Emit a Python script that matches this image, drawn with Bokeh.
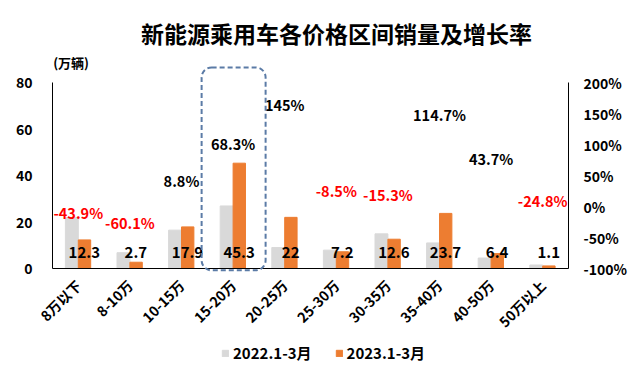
import math
from bokeh.plotting import figure
from bokeh.models import (ColumnDataSource, Range1d, LinearAxis, LabelSet,
                          BoxAnnotation, Label, Legend, LegendItem, FixedTicker, PrintfTickFormatter)
from bokeh.transform import dodge
from bokeh.core.properties import value
from bokeh.embed import file_html
from bokeh.resources import INLINE

# ---- data ----
categories = ["8万以下", "8-10万", "10-15万", "15-20万", "20-25万",
              "25-30万", "30-35万", "35-40万", "40-50万", "50万以上"]
sales_2022 = [21.9, 6.8, 16.5, 26.9, 9.0, 7.9, 14.9, 11.0, 4.5, 1.5]
sales_2023 = [12.3, 2.7, 17.9, 45.3, 22, 7.2, 12.6, 23.7, 6.4, 1.1]
sales_labels = ["12.3", "2.7", "17.9", "45.3", "22", "7.2", "12.6", "23.7", "6.4", "1.1"]
growth = [-43.9, -60.1, 8.8, 68.3, 145, -8.5, -15.3, 114.7, 43.7, -24.8]
growth_labels = ["-43.9%", "-60.1%", "8.8%", "68.3%", "145%",
                 "-8.5%", "-15.3%", "114.7%", "43.7%", "-24.8%"]
left_ticks = [0, 20, 40, 60, 80]
right_ticks = [-100, -50, 0, 50, 100, 150, 200]
series_names = ["2022.1-3月", "2023.1-3月"]
title_text = "新能源乘用车各价格区间销量及增长率"
unit_text = "(万辆)"
highlight = "15-20万"

FONT = "Noto Sans CJK SC"
GREY = "#d9d9d9"
ORANGE = "#ed7d31"

# layout: the frame covers the whole figure; all axes are pinned inside it
W, H = 640, 366
PAD_L, PAD_R = 52, 72             # pixels between figure edge and the value axes
CAT_PX = (W - PAD_L - PAD_R) / len(categories)
BASE_PX = 268                     # pixel row of y=0, from the top
PX_PER_UNIT = 2.325
Y_TOP = BASE_PX / PX_PER_UNIT
Y_BOTTOM = -(H - BASE_PX) / PX_PER_UNIT
PCT_PER_UNIT = (right_ticks[-1] - right_ticks[0]) / (left_ticks[-1] - left_ticks[0])
X_START = -0.5 - PAD_L / CAT_PX
X_END = len(categories) - 0.5 + PAD_R / CAT_PX

idx = list(range(len(categories)))
src = ColumnDataSource(dict(
    x=idx, cat=categories, s22=sales_2022, s23=sales_2023, slab=sales_labels,
    g=growth, glab=growth_labels,
    gcol=["#ff0000" if v < 0 else "#000000" for v in growth],
    goff=[12 if v > 140 else 21 for v in growth],
))

p = figure(x_range=Range1d(X_START, X_END), y_range=Range1d(Y_BOTTOM, Y_TOP),
           width=W, height=H, min_border=0,
           output_backend="svg", toolbar_location=None)
p.extra_y_ranges = {"pct": Range1d(right_ticks[0] + Y_BOTTOM * PCT_PER_UNIT,
                                   right_ticks[0] + Y_TOP * PCT_PER_UNIT)}

p.outline_line_color = None
p.xgrid.visible = False
p.ygrid.visible = False

r22 = p.vbar(x=dodge("x", -0.125), top="s22", bottom=0, width=0.25,
             color=GREY, source=src)
r23 = p.vbar(x=dodge("x", 0.12), top="s23", bottom=0, width=0.24,
             color=ORANGE, source=src)

# left value axis
p.yaxis.fixed_location = -0.5
p.yaxis.ticker = FixedTicker(ticks=left_ticks)
p.yaxis.bounds = (left_ticks[0], left_ticks[-1])
p.yaxis.major_tick_line_color = None
p.yaxis.minor_tick_line_color = None
p.yaxis.major_tick_out = 0
p.yaxis.axis_line_color = "#000000"
p.yaxis.major_label_standoff = 20
p.yaxis.major_label_text_font = FONT
p.yaxis.major_label_text_font_style = "bold"
p.yaxis.major_label_text_font_size = "14px"
p.yaxis.major_label_text_color = "#000000"

# category axis
p.xaxis.fixed_location = 0
p.xaxis.ticker = FixedTicker(ticks=idx)
p.xaxis.major_label_overrides = {i: c for i, c in zip(idx, categories)}
p.xaxis.bounds = (-0.5, len(categories) - 0.5)
p.xaxis.major_tick_line_color = None
p.xaxis.minor_tick_line_color = None
p.xaxis.major_tick_out = 0
p.xaxis.axis_line_color = "#000000"
p.xaxis.major_label_orientation = math.pi / 4
p.xaxis.major_label_standoff = 14
p.xaxis.major_label_text_font = FONT
p.xaxis.major_label_text_font_style = "bold"
p.xaxis.major_label_text_font_size = "14px"
p.xaxis.major_label_text_color = "#000000"

# right growth-rate axis
rax = LinearAxis(y_range_name="pct", ticker=FixedTicker(ticks=right_ticks),
                 formatter=PrintfTickFormatter(format="%d%%"),
                 bounds=(right_ticks[0], right_ticks[-1]),
                 fixed_location=len(categories) - 0.5)
rax.major_tick_line_color = None
rax.minor_tick_line_color = None
rax.major_tick_out = 0
rax.axis_line_color = "#000000"
rax.major_label_standoff = 15
rax.major_label_text_font = FONT
rax.major_label_text_font_style = "bold"
rax.major_label_text_font_size = "14px"
rax.major_label_text_color = "#000000"
p.add_layout(rax, "right")

# labels
p.add_layout(LabelSet(x="x", y="g", y_range_name="pct", text="glab", source=src,
                      y_offset="goff", text_color="gcol", text_align="center",
                      text_baseline="middle", text_font=value(FONT),
                      text_font_style="bold", text_font_size="14.5px"))
p.add_layout(LabelSet(x="x", y=value(0), text="slab", source=src,
                      x_offset=6, y_offset=16, text_color="#000000", text_align="center",
                      text_baseline="middle", text_font=value(FONT),
                      text_font_style="bold", text_font_size="15px"))

# highlight box
hi = categories.index(highlight)
p.add_layout(BoxAnnotation(left=hi - 0.61, right=hi + 0.63, bottom=-0.8, top=86.5,
                           fill_color=None, fill_alpha=0, line_color="#5b7ba6",
                           line_alpha=1, line_width=2, line_dash="5 3", border_radius=10))

# unit label and title
p.add_layout(Label(x=-0.14, y=88.6, text=unit_text, text_font=FONT,
                   text_font_style="bold", text_font_size="13px", text_align="center",
                   text_baseline="middle", text_color="#000000"))
p.add_layout(Label(x=(len(categories) - 1) / 2, x_offset=26, y=101.5, text=title_text,
                   text_font=FONT, text_font_style="bold", text_font_size="23px",
                   text_align="center", text_baseline="middle", text_color="#000000"))

legend = Legend(items=[LegendItem(label=series_names[0], renderers=[r22]),
                       LegendItem(label=series_names[1], renderers=[r23])],
                orientation="horizontal", location=(PAD_L + 169, 3))
legend.label_text_font = FONT
legend.label_text_font_style = "bold"
legend.label_text_font_size = "15px"
legend.label_text_color = "#000000"
legend.glyph_width = 8
legend.glyph_height = 8
legend.border_line_color = None
legend.background_fill_alpha = 0
legend.spacing = 23
legend.label_standoff = 4
legend.margin = 0
legend.padding = 2
p.add_layout(legend, "center")

open("out.html", "w").write(file_html(p, INLINE))
